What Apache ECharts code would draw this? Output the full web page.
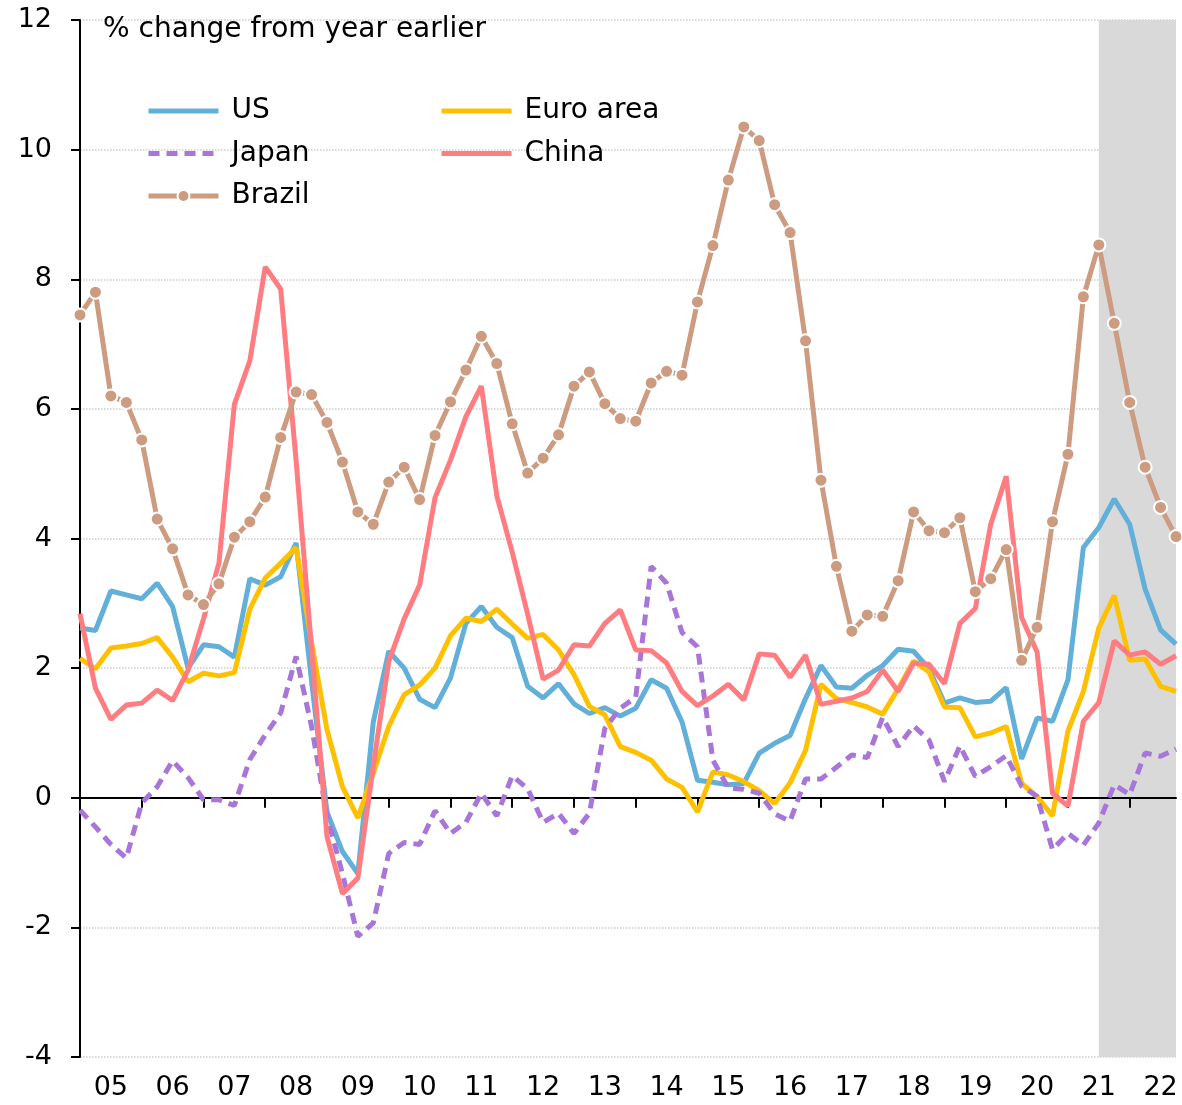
<!DOCTYPE html>
<html>
<head>
<meta charset="utf-8">
<script src="https://cdn.jsdelivr.net/npm/echarts@6/dist/echarts.min.js"></script>
<style>
html,body{margin:0;padding:0;background:#fff}
#chartMain{width:1182px;height:1105px}
</style>
</head>
<body>
<div id="chartMain"></div>
<script>
// quarterly, 2005Q1 - 2022Q4
var years = ['05','06','07','08','09','10','11','12','13','14','15','16','17','18','19','20','21','22'];
var quarters = [];
for (var y = 0; y < years.length; y++) {
	for (var q = 1; q <= 4; q++) quarters.push('20' + years[y] + 'Q' + q);
}

var usData = [2.62,2.58,3.19,3.13, 3.07,3.31,2.95,2.0, 2.36,2.33,2.17,3.38, 3.28,3.41,3.93,1.8,
	-0.22,-0.83,-1.17,1.17, 2.26,2.0,1.52,1.39, 1.85,2.69,2.95,2.63, 2.47,1.72,1.54,1.76,
	1.45,1.3,1.39,1.26, 1.38,1.82,1.69,1.17, 0.27,0.24,0.2,0.22, 0.69,0.84,0.96,1.53,
	2.04,1.71,1.69,1.89, 2.04,2.29,2.26,1.99, 1.46,1.54,1.47,1.49, 1.7,0.6,1.23,1.18,
	1.82,3.86,4.17,4.61, 4.22,3.22,2.59,2.37];
var euroData = [2.15,1.99,2.31,2.34, 2.38,2.47,2.17,1.79, 1.92,1.88,1.93,2.91, 3.39,3.62,3.86,2.4,
	1.05,0.17,-0.31,0.38, 1.1,1.59,1.74,2.0, 2.5,2.77,2.72,2.91, 2.68,2.46,2.52,2.28,
	1.9,1.41,1.28,0.79, 0.7,0.58,0.29,0.16, -0.22,0.4,0.35,0.25, 0.11,-0.09,0.23,0.73,
	1.75,1.53,1.47,1.4, 1.29,1.68,2.11,1.94, 1.4,1.39,0.94,1.0, 1.1,0.22,0.02,-0.28,
	1.03,1.64,2.62,3.12, 2.12,2.14,1.72,1.64];
var japanData = [-0.19,-0.45,-0.72,-0.93, -0.08,0.17,0.57,0.31, -0.03,-0.03,-0.12,0.59, 0.97,1.31,2.18,1.1,
	-0.28,-1.17,-2.14,-1.93, -0.86,-0.69,-0.72,-0.2, -0.55,-0.38,0.07,-0.28, 0.34,0.14,-0.38,-0.24,
	-0.55,-0.24,1.07,1.38, 1.55,3.57,3.31,2.55, 2.33,0.58,0.15,0.13, 0.07,-0.25,-0.36,0.29,
	0.29,0.47,0.66,0.62, 1.24,0.79,1.11,0.89, 0.25,0.8,0.33,0.48, 0.65,0.18,0.02,-0.8,
	-0.55,-0.73,-0.39,0.2, 0.05,0.69,0.64,0.75];
var chinaData = [2.84,1.69,1.21,1.43, 1.46,1.66,1.5,1.97, 2.76,3.62,6.07,6.74, 8.19,7.85,5.2,2.3,
	-0.6,-1.48,-1.24,0.5, 2.1,2.76,3.28,4.63, 5.21,5.88,6.35,4.66, 3.79,2.83,1.83,1.97,
	2.36,2.34,2.69,2.9, 2.28,2.27,2.08,1.64, 1.42,1.57,1.75,1.51, 2.22,2.2,1.86,2.2,
	1.44,1.49,1.54,1.64, 1.97,1.64,2.08,2.06, 1.76,2.69,2.92,4.22, 4.96,2.78,2.25,0.07,
	-0.13,1.18,1.47,2.42, 2.2,2.25,2.06,2.19];
var brazilData = [7.45,7.8,6.2,6.1, 5.52,4.3,3.84,3.13, 2.98,3.3,4.02,4.26, 4.64,5.56,6.26,6.22,
	5.79,5.18,4.41,4.22, 4.87,5.1,4.6,5.59, 6.11,6.6,7.12,6.7, 5.77,5.01,5.24,5.6,
	6.35,6.57,6.08,5.85, 5.81,6.4,6.58,6.52, 7.65,8.52,9.53,10.35, 10.14,9.15,8.72,7.05,
	4.9,3.57,2.57,2.82, 2.8,3.35,4.41,4.12, 4.09,4.32,3.18,3.38, 3.83,2.12,2.63,4.26,
	5.3,7.73,8.53,7.32, 6.1,5.1,4.48,4.03];
var shadeFrom = '2021Q3';
var shadeTo = '2022Q4';

var myChart = echarts.init(document.getElementById('chartMain'));
var fontName = 'DejaVu Sans';
var lineW = 5;

function lineSeries(name, data, color, extra) {
	var s = {
		name: name,
		type: 'line',
		data: data,
		symbol: 'none',
		z: 3,
		lineStyle: {color: color, width: lineW},
		itemStyle: {color: color}
	};
	for (var k in extra) s[k] = extra[k];
	return s;
}

var legendText = {fontFamily: fontName, fontSize: 28, color: '#000', lineHeight: 28, padding: [0, 0, 0, 8]};
var noDot = {opacity: 0};

var option = {
	animation: false,
	backgroundColor: '#fff',
	textStyle: {fontFamily: fontName},
	title: {
		text: '% change from year earlier',
		left: 98,
		top: 11,
		textStyle: {fontFamily: fontName, fontSize: 28, fontWeight: 'normal', color: '#000'}
	},
	legend: [
		{
			data: [{name: 'US', itemStyle: noDot}, {name: 'Japan', itemStyle: noDot}, 'Brazil'],
			orient: 'vertical',
			left: 141,
			top: 92,
			itemWidth: 70,
			itemHeight: 15,
			itemGap: 14.5,
			lineStyle: {width: lineW},
			textStyle: legendText
		},
		{
			data: [{name: 'Euro area', itemStyle: noDot}, {name: 'China', itemStyle: noDot}],
			orient: 'vertical',
			left: 434,
			top: 92,
			itemWidth: 70,
			itemHeight: 15,
			itemGap: 14.5,
			lineStyle: {width: lineW},
			textStyle: legendText
		}
	],
	grid: {left: 80, right: 6, top: 20, bottom: 48},
	xAxis: [
		{
			type: 'category',
			data: quarters,
			boundaryGap: false,
			axisLine: {show: false, onZero: false},
			axisTick: {show: false},
			splitLine: {show: false},
			axisLabel: {
				interval: function (index) { return index % 4 === 2; },
				formatter: function (v) { return v.slice(2, 4); },
				fontFamily: fontName,
				fontSize: 27,
				color: '#000',
				margin: 17
			}
		},
		{
			type: 'category',
			data: quarters,
			boundaryGap: false,
			position: 'bottom',
			z: 2,
			axisLine: {show: true, onZero: true, lineStyle: {color: '#000', width: 2}},
			axisTick: {
				show: true,
				interval: function (index) { return index % 4 === 0; },
				length: 10,
				lineStyle: {color: '#000', width: 2}
			},
			axisLabel: {show: false},
			splitLine: {show: false}
		}
	],
	yAxis: {
		type: 'value',
		min: -4,
		max: 12,
		interval: 2,
		axisLine: {show: true, lineStyle: {color: '#000', width: 2}},
		axisTick: {show: true, length: 9, lineStyle: {color: '#000', width: 2}},
		axisLabel: {fontFamily: fontName, fontSize: 27, color: '#000', margin: 28},
		splitLine: {show: true, lineStyle: {color: '#cccccc', width: 1.5, type: 'dotted'}}
	},
	series: [
		{
			type: 'line',
			data: [],
			z: 1,
			silent: true,
			markArea: {
				silent: true,
				itemStyle: {color: '#d9d9d9'},
				data: [[{xAxis: shadeFrom}, {xAxis: shadeTo}]]
			}
		},
		lineSeries('US', usData, '#62b0d9'),
		lineSeries('Euro area', euroData, '#ffc000'),
		lineSeries('Japan', japanData, '#a875d8', {lineStyle: {color: '#a875d8', width: lineW, type: [11, 7]}}),
		lineSeries('China', chinaData, '#ff7c80'),
		lineSeries('Brazil', brazilData, '#cc9b80', {
			symbol: 'circle',
			symbolSize: 13,
			showSymbol: true,
			showAllSymbol: true,
			itemStyle: {color: '#cc9b80', borderColor: '#fff', borderWidth: 2}
		})
	]
};
myChart.setOption(option);
</script>
</body>
</html>
